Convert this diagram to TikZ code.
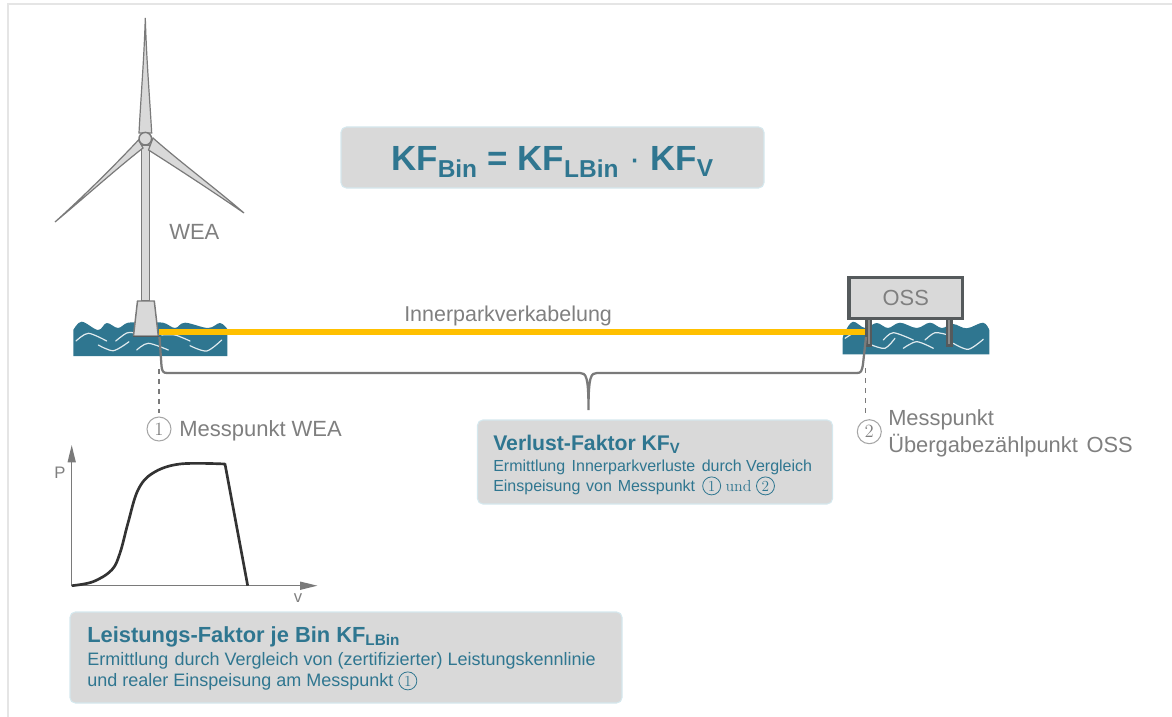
\documentclass[tikz,border=0pt]{standalone}
\usepackage{fontspec}
\setmainfont{Liberation Sans}
\newfontfamily\numfont{Latin Modern Roman}
\usetikzlibrary{arrows.meta}
\definecolor{teal1}{HTML}{2F7690}
\definecolor{txtgray}{HTML}{7F7F7F}
\definecolor{boxgray}{HTML}{D9D9D9}
\definecolor{linegray}{HTML}{7A7A7A}
\definecolor{darkgray1}{HTML}{555A5C}
\definecolor{cable}{HTML}{FFC000}
\definecolor{edgeblue}{HTML}{D5E8EE}
\newcommand{\px}[2]{\fontsize{#1}{#2}\selectfont}
\newcommand{\circnum}[2][txtgray]{\tikz[baseline=(c.base)]\node[circle,draw=#1,line width=0.6pt,minimum size=13.5pt,inner sep=0pt,text=#1,font=\numfont\px{11.5}{12}](c){#2};}
\tikzset{
  x=0.75pt,y=-0.75pt,
  infobox/.style={draw=edgeblue,line width=0.8pt,fill=boxgray,rounded corners=4pt,anchor=north west,inner sep=0pt,outer sep=0pt},
  lbl/.style={text=txtgray,anchor=base west,inner sep=0pt},
  boxtxt/.style={text=teal1,anchor=base west,inner sep=0pt},
  turbine/.style={draw=linegray,fill=boxgray,line width=1.1pt,line join=round},
  blade/.style={draw=linegray,fill=boxgray,line width=0.9pt,line join=miter},
  wave/.style={draw=white!85!teal1,line width=0.9pt,line cap=round},
  sea/.style={fill=teal1,draw=none},
  brace/.style={draw=linegray,line width=1.7pt,line join=round},
  dashline/.style={draw=linegray,line width=1pt,dash pattern=on 4pt off 3.5pt},
  axis/.style={draw=linegray,line width=1pt,-{Triangle[length=13pt,width=6pt]}},
  mcircle/.style={circle,draw=black!35,line width=0.8pt,minimum size=18pt,inner sep=0pt,text=txtgray,font=\numfont\px{14}{16}},
}
\begin{document}
\begin{tikzpicture}
\useasboundingbox (0,0) rectangle (1172,717);
% frame
\draw[draw=black!10,line width=0.8pt] (8,717) -- (8,4) -- (1172,4);
% formula
\node[infobox,minimum width=423*0.75pt,minimum height=61*0.75pt] (formula) at (341,127) {};
\node[text=teal1,inner sep=0pt,anchor=base,font=\bfseries\px{26.2}{30}] (formulatxt) at (552.5,171) {KF\textsubscript{Bin} = KF\textsubscript{LBin} {\mdseries·} KF\textsubscript{V}};
% sea left
\path[sea] (73.3,356) -- plot[smooth,tension=0.6] coordinates {(73.3,330) (81.7,321.7) (98,330) (106.7,323) (118,328) (128,322.7) (145,322.7) (163,322.7) (175,328) (185,322.7) (208,328) (220,323) (227.3,329)} -- (227.3,356) -- cycle;
\draw[wave] plot[smooth] coordinates {(76,341) (88.3,333.3) (106.7,341)};
\draw[wave] plot[smooth] coordinates {(98.3,345) (113.3,350.7) (129,341.7)};
\draw[wave] plot[smooth] coordinates {(115.7,341) (126.7,333) (135,333)};
\draw[wave] plot[smooth] coordinates {(136.7,350) (148.3,343.3) (168.3,350)};
\draw[wave] plot[smooth] coordinates {(161.7,335) (175,335) (190,341)};
\draw[wave] plot[smooth] coordinates {(190,345.7) (206.7,351) (221.7,340)};
% sea right
\path[sea] (842.7,354.3) -- plot[smooth,tension=0.6] coordinates {(842.7,338) (845,331.7) (853,321.7) (865,328) (876.7,323) (888,328) (900,322.7) (916.7,328) (930,322.7) (941.7,328) (953,324) (966.7,328.3) (983,322.7) (989.3,330)} -- (989.3,354.3) -- cycle;
\draw[wave] plot[smooth] coordinates {(845,338.3) (851.7,334)};
\draw[wave] plot[smooth] coordinates {(871.7,345) (885,348.3) (895,338.3)};
\draw[wave] plot[smooth] coordinates {(883.3,340) (893.3,332.7) (913.3,340)};
\draw[wave] plot[smooth] coordinates {(903.3,348.3) (916.7,341.7) (933.3,348.3)};
\draw[wave] plot[smooth] coordinates {(925,340) (935,332.7) (948,335)};
\draw[wave] plot[smooth] coordinates {(953.3,343.3) (968.3,349.3) (983.3,339.3)};
% turbine
\draw[turbine] (141.5,145) rectangle (149.5,301);
\draw[turbine] (133.5,336) -- (137.5,301) -- (154.3,301) -- (158.3,336) -- cycle;
\draw[line width=1.1pt,draw=darkgray1] (133,336.5) -- (159,336.5);
\draw[blade] (145.3,18) .. controls (146.5,60) and (149.5,95) .. (151.7,133) -- (139,133) .. controls (141,95) and (144,60) .. (145.3,18) -- cycle;
\draw[blade] (55,222) .. controls (85,195) and (115,165) .. (138.5,140) -- (143,148) .. controls (115,170) and (85,197) .. (55,222) -- cycle;
\draw[blade] (244,213) .. controls (215,188) and (180,162) .. (153,138) -- (148.5,150) .. controls (180,170) and (215,193) .. (244,213) -- cycle;
\draw[turbine] (145.3,138.7) circle[radius=6.3];
\node[lbl,font=\px{16.5}{18}] (wea) at (169,239) {WEA};
% OSS legs
\fill[darkgray1] (865,318) rectangle (871.7,347);
\fill[darkgray1] (945.5,318) rectangle (952.5,347);
\fill[black!45] (867.5,320) rectangle (869.8,344);
\fill[black!45] (948,320) rectangle (950.3,344);
% OSS
\node[draw=darkgray1,line width=2.5pt,fill=boxgray,minimum width=113.5*0.75pt,minimum height=40.6*0.75pt,anchor=north west,inner sep=0pt,outer sep=0pt,text=txtgray,font=\px{16.4}{18}] (oss) at (849,277.7) {OSS};
% cable
\coordinate (cableL) at (159,332);
\coordinate (cableR) at (865,332);
\draw[cable,line width=4.2pt] (cableL) -- (cableR);
\node[lbl,font=\px{16.1}{18}] (ipv) at (404,321) {Innerparkverkabelung};
% brace
\coordinate (braceL) at (159.5,337);
\coordinate (braceR) at (866,337);
\coordinate (braceT) at (588.5,410);
\draw[brace] (braceL) -- (161.5,366) .. controls (162,371) and (163,373) .. (167,373)
  -- (580,373) .. controls (586,373) and (588.5,376) .. (braceT)
  (braceT) .. controls (588.5,376) and (591,373) .. (597,373)
  -- (857,373) .. controls (861,373) and (862,371) .. (863,364) -- (braceR);
% dashes
\coordinate (d1a) at (159,369);
\coordinate (d1b) at (159,413);
\coordinate (d2a) at (865.7,368);
\coordinate (d2b) at (865.7,414);
\draw[dashline] (d1a) -- (d1b);
\draw[dashline] (d2a) -- (d2b);
% measuring labels
\node[mcircle] (m1) at (159,429) {1};
\node[lbl,font=\px{16.5}{18}] (m1t) at (179,436) {Messpunkt WEA};
\node[mcircle] (m2) at (869.3,431.7) {2};
\node[lbl,font=\px{16.4}{18}] (m2t) at (888,425.5) {Messpunkt};
\node[lbl,font=\px{16.4}{18}] (m2u) at (888,452.3) {Übergabezählpunkt\hspace{2pt} OSS};
% KFV box
\node[infobox,minimum width=355*0.75pt,minimum height=84*0.75pt] (kfv) at (477.5,420) {};
\node[boxtxt,font=\bfseries\px{15.9}{18}] (kfvh) at (493,450) {Verlust-Faktor KF\textsubscript{V}};
\node[boxtxt,font=\px{12}{14}] (kfv1) at (493,471.5) {Ermittlung\hspace{1.5pt} Innerparkverluste\hspace{1.5pt} durch Vergleich};
\node[boxtxt,font=\px{12}{14}] (kfv2) at (493,491) {Einspeisung\hspace{1pt} von\hspace{1pt} Messpunkt\hspace{2pt} \circnum[teal1]{1} {\numfont und} \circnum[teal1]{2}};
% chart
\coordinate (orig) at (71.7,585.7);
\coordinate (ytip) at (71.7,445);
\coordinate (xtip) at (317.5,585.7);
\draw[axis] (orig) -- (ytip);
\draw[axis] (orig) -- (xtip);
\node[text=txtgray,font=\px{12.5}{14},inner sep=0pt] (P) at (60,472.7) {P};
\node[text=txtgray,font=\px{12.5}{14},inner sep=0pt] (v) at (298,598) {v};
\draw[draw=black!80,line width=2pt,line join=round] plot[smooth,tension=0.6] coordinates {(71.7,585.7) (93,581.7) (111.7,570) (120,553) (128,523) (138,490) (153,473) (180,464) (225,464)} -- (247.7,585.7);
% KFL box
\node[infobox,minimum width=552*0.75pt,minimum height=91*0.75pt] (kfl) at (70,612) {};
\node[boxtxt,font=\bfseries\px{16.4}{18}] (kflh) at (87,642) {Leistungs-Faktor je Bin KF\textsubscript{LBin}};
\node[boxtxt,font=\px{13.5}{15}] (kfl1) at (87,665) {Ermittlung\hspace{1pt} durch Vergleich von (zertifizierter) Leistungskennlinie};
\node[boxtxt,font=\px{13.5}{15}] (kfl2) at (87,686) {und realer Einspeisung am Messpunkt \circnum[teal1]{1}};
\end{tikzpicture}
\end{document}
